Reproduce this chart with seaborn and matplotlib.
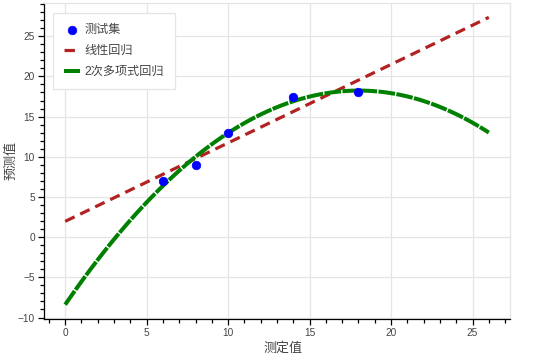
import numpy as np
import pandas as pd
import matplotlib
matplotlib.use("Agg")
import matplotlib.pyplot as plt
import seaborn as sns
from matplotlib.ticker import MultipleLocator

# data
x_test = [6, 8, 10, 14, 18]
y_test = [7, 9, 13, 17.5, 18]
x_range = [0, 26]
label_points = "测试集"
label_linear = "线性回归"
label_quad = "2次多项式回归"
xlabel = "测定值"
ylabel = "预测值"

sns.set_style("white")
plt.rcParams['font.family'] = ['Liberation Sans', 'Noto Sans CJK SC']
plt.rcParams['lines.scale_dashes'] = False

W, H = 537, 358
fig = plt.figure(figsize=(W / 100, H / 100), dpi=100)
L, R, T, B = 44, 510, 3, 319
ax = fig.add_axes([L / W, (H - B) / H, (R - L) / W, (B - T) / H])

xx = np.linspace(x_range[0], x_range[1], 100)
lin = np.polyfit(x_test, y_test, 1)
quad = np.polyfit(x_test, y_test, 2)
df_lin = pd.DataFrame({"x": xx, "y": np.polyval(lin, xx)})
df_quad = pd.DataFrame({"x": xx, "y": np.polyval(quad, xx)})
df_pts = pd.DataFrame({"x": x_test, "y": y_test})

sns.scatterplot(data=df_pts, x="x", y="y", ax=ax, color="blue", s=38,
                edgecolor="blue", linewidth=0.5, label=label_points, zorder=5)
sns.lineplot(data=df_lin, x="x", y="y", ax=ax, color="#B22222", lw=2.3,
             linestyle=(0, (7.5, 4.5)), label=label_linear, zorder=3)
sns.lineplot(data=df_quad, x="x", y="y", ax=ax, color="#008000", lw=2.9,
             linestyle=(0, (12, 1.0)), label=label_quad, zorder=4)

pad_x = (x_range[1] - x_range[0]) * 0.05
ax.set_xlim(x_range[0] - pad_x, x_range[1] + pad_x)
ymin = min(df_quad.y.min(), df_lin.y.min())
ymax = max(df_quad.y.max(), df_lin.y.max())
pad_y = (ymax - ymin) * 0.05
ax.set_ylim(ymin - pad_y, ymax + pad_y)

ax.xaxis.set_major_locator(MultipleLocator(5))
ax.xaxis.set_minor_locator(MultipleLocator(1))
ax.yaxis.set_major_locator(MultipleLocator(5))
ax.yaxis.set_minor_locator(MultipleLocator(1))
ax.grid(True, which="major", color="#e5e5e5", lw=0.9)
ax.set_axisbelow(True)

for s in ["top", "right"]:
    ax.spines[s].set_color("#e5e5e5")
    ax.spines[s].set_linewidth(0.9)
for s in ["left", "bottom"]:
    ax.spines[s].set_color("black")
    ax.spines[s].set_linewidth(0.9)

ax.tick_params(which="major", direction="out", length=4.5, width=0.9,
               color="black", labelsize=7.3, labelcolor="#444444", pad=2,
               left=True, bottom=True)
ax.tick_params(which="minor", direction="out", length=2.8, width=0.9,
               color="black", left=True, bottom=True)

ax.set_xlabel(xlabel, fontsize=9.4, style="italic", color="#444444")
ax.set_ylabel(ylabel, fontsize=9.4, style="italic", color="#444444")
ax.xaxis.set_label_coords((283 - L) / (R - L), -(348 - B) / (B - T))
ax.yaxis.set_label_coords(-(L - 11) / (R - L), (B - 160) / (B - T))
ax.xaxis.label.set_va("center")
ax.yaxis.label.set_va("center")

leg = ax.legend(loc="upper left", bbox_to_anchor=(9 / (R - L), 1 - 10 / (B - T)),
                fontsize=8.7, frameon=True, fancybox=False, framealpha=1,
                edgecolor="#e5e5e5", handlelength=1.3, handletextpad=0.4,
                labelspacing=0.75, borderpad=0.9, borderaxespad=0)
leg.get_frame().set_linewidth(0.9)
for t in leg.get_texts():
    t.set_color("#444444")

fig.savefig("out.png", dpi=100)
